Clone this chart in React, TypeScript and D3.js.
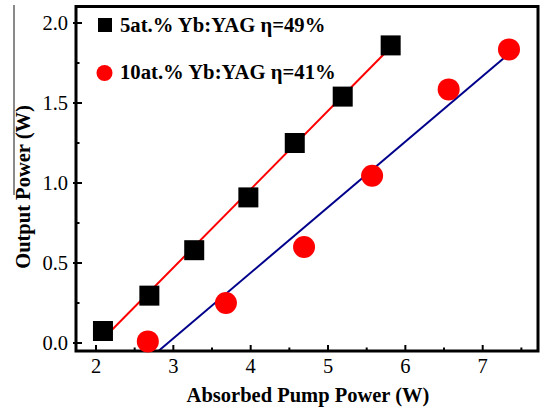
import React from "react";
import * as d3 from "d3";

const xTicks = [2, 3, 4, 5, 6, 7];
const yTicks = [0.0, 0.5, 1.0, 1.5, 2.0];
const xMinor = [2.5, 3.5, 4.5, 5.5, 6.5, 7.5];
const yMinor = [0.25, 0.75, 1.25, 1.75];

const s5X = [2.09, 2.69, 3.27, 3.97, 4.57, 5.19, 5.81];
const s5Y = [0.075, 0.296, 0.58, 0.91, 1.25, 1.54, 1.86];
const s10X = [2.67, 3.68, 4.69, 5.57, 6.56, 7.34];
const s10Y = [0.01, 0.25, 0.6, 1.045, 1.585, 1.835];

const fit5X = [2.08, 5.81];
const fit5Y = [0.02, 1.848];
const fit10X = [2.8, 7.34];
const fit10Y = [-0.053, 1.808];

const legendLabels = ["5at.% Yb:YAG η=49%", "10at.% Yb:YAG η=41%"];

const W = 541;
const H = 409;
const L = 76, R = 538, T = 6.5, B = 351;

export default function App() {
  const x = d3.scaleLinear().domain([2, 7]).range([96, 482.7]);
  const y = d3.scaleLinear().domain([0, 2]).range([343, 23]);
  const line = d3.line<[number, number]>().x((d) => x(d[0])).y((d) => y(d[1]));
  const serif = "Liberation Serif";
  return (
    <svg width={W} height={H} style={{ position: "absolute", left: 0, top: 0, background: "#fff" }}>
      <defs>
        <clipPath id="plot">
          <rect x={L} y={T} width={R - L} height={B - T} />
        </clipPath>
      </defs>
      <line x1={14} x2={14} y1={5} y2={195} stroke="#8a8a8a" strokeWidth={2} />
      <g clipPath="url(#plot)">
        <path d={line(fit5X.map((v, i) => [v, fit5Y[i]]) as [number, number][]) || ""} stroke="#ff0000" strokeWidth={2} fill="none" />
        <path d={line(fit10X.map((v, i) => [v, fit10Y[i]]) as [number, number][]) || ""} stroke="#00008b" strokeWidth={2} fill="none" />
      </g>
      {xTicks.map((t) => (
        <g key={"xt" + t}>
          <line x1={x(t)} x2={x(t)} y1={B} y2={B - 6} stroke="#000" strokeWidth={2} />
          <text x={x(t)} y={373} textAnchor="middle" fontFamily={serif} fontSize={20.5}>{t}</text>
        </g>
      ))}
      {xMinor.map((t) => (
        <line key={"xm" + t} x1={x(t)} x2={x(t)} y1={B} y2={B - 3.5} stroke="#000" strokeWidth={2} />
      ))}
      {yTicks.map((t) => (
        <g key={"yt" + t}>
          <line x1={L - 3} x2={L + 6} y1={y(t)} y2={y(t)} stroke="#000" strokeWidth={2} />
          <text x={68} y={y(t) + 7} textAnchor="end" fontFamily={serif} fontSize={20.5}>{t.toFixed(1)}</text>
        </g>
      ))}
      {yMinor.map((t) => (
        <line key={"ym" + t} x1={L} x2={L + 3.5} y1={y(t)} y2={y(t)} stroke="#000" strokeWidth={2} />
      ))}
      <rect x={L} y={T} width={R - L} height={B - T} fill="none" stroke="#000" strokeWidth={3} />
      {s5X.map((v, i) => (
        <rect key={"s" + i} x={x(v) - 10} y={y(s5Y[i]) - 10} width={20} height={20} fill="#000" />
      ))}
      {s10X.map((v, i) => (
        <circle key={"c" + i} cx={x(v)} cy={y(s10Y[i])} r={11} fill="#ff0000" />
      ))}
      <rect x={98} y={18} width={14} height={14} fill="#000" />
      <text x={120} y={32} fontFamily={serif} fontWeight="bold" fontSize={20.7}>{legendLabels[0]}</text>
      <circle cx={104.5} cy={73} r={8} fill="#ff0000" />
      <text x={120} y={79} fontFamily={serif} fontWeight="bold" fontSize={20.7}>{legendLabels[1]}</text>
      <text x={308} y={402} textAnchor="middle" fontFamily={serif} fontWeight="bold" fontSize={20.5}>Absorbed Pump Power (W)</text>
      <text transform={`translate(30,187) rotate(-90)`} textAnchor="middle" fontFamily={serif} fontWeight="bold" fontSize={20.5}>Output Power (W)</text>
    </svg>
  );
}
